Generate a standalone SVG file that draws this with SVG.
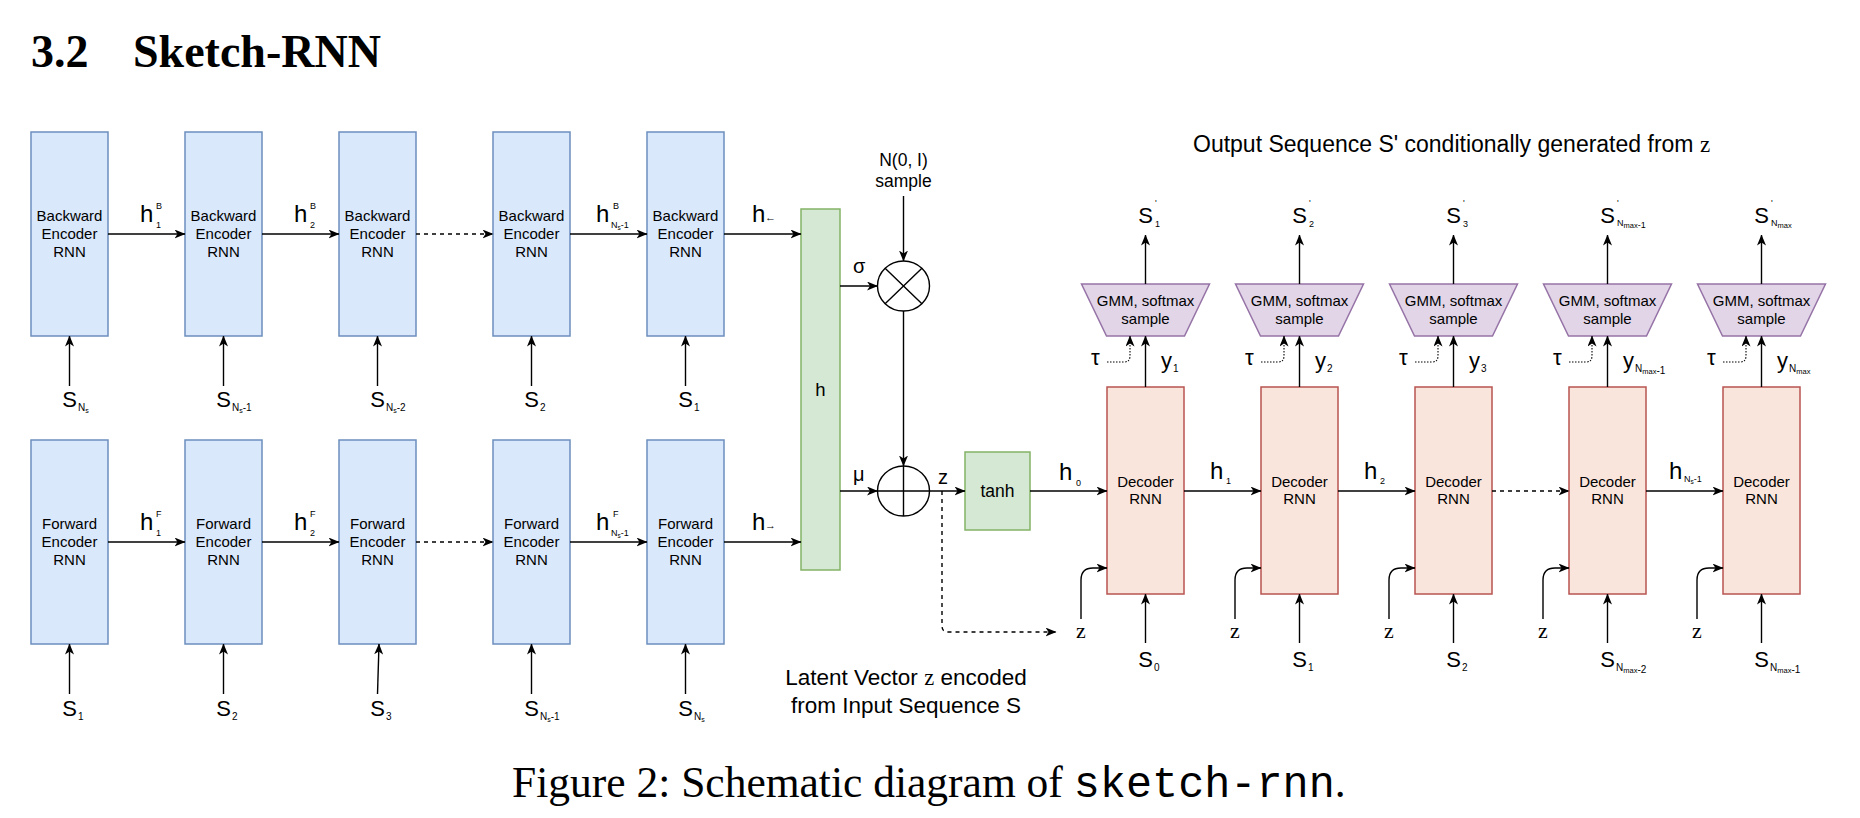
<svg xmlns="http://www.w3.org/2000/svg" width="1860" height="818" viewBox="0 0 1860 818">
<style>
text{font-family:"Liberation Sans",Arial,Helvetica,sans-serif;fill:#000}
.serif{font-family:"Liberation Serif","Times New Roman",serif}
.mono{font-family:"Liberation Mono","Courier New",monospace}
.enc{fill:#dae8fc;stroke:#6c8ebf;stroke-width:1.5}
.dec{fill:#fae5dc;stroke:#b85450;stroke-width:1.5}
.grn{fill:#d5e8d4;stroke:#82b366;stroke-width:1.5}
.gmm{fill:#e1d5e7;stroke:#9673a6;stroke-width:1.5}
.bt{font-size:15px;text-anchor:middle}
.mid{text-anchor:middle}
.sm{font-size:9px}
.xs{font-size:6.5px}
.ln{stroke:#000;stroke-width:1.4;fill:none;marker-end:url(#ah)}
.pl{stroke:#000;stroke-width:1.4;fill:none}
.dash{stroke-dasharray:4 4}
.dot{stroke-dasharray:1.5 1.5;stroke-width:1.1}
</style>
<defs>
<marker id="ah" markerUnits="userSpaceOnUse" markerWidth="11" markerHeight="9" viewBox="0 0 11 9" refX="10.5" refY="4.5" orient="auto">
<path d="M0,0 L11,4.5 L0,9 L3,4.5 Z" fill="#000"/>
</marker>
</defs>
<rect width="1860" height="818" fill="#fff"/>

<g id="heading">
<text class="serif" x="31" y="67" font-size="46" font-weight="bold">3.2</text>
<text class="serif" x="133" y="67" font-size="46" font-weight="bold">Sketch-RNN</text>
</g>

<!-- Backward encoder row -->
<g id="bwd1"><rect class="enc" x="31" y="132" width="77" height="204"/><text class="bt" x="69.5" y="221">Backward</text><text class="bt" x="69.5" y="239">Encoder</text><text class="bt" x="69.5" y="257">RNN</text></g>
<g id="bwd2"><rect class="enc" x="185" y="132" width="77" height="204"/><text class="bt" x="223.5" y="221">Backward</text><text class="bt" x="223.5" y="239">Encoder</text><text class="bt" x="223.5" y="257">RNN</text></g>
<g id="bwd3"><rect class="enc" x="339" y="132" width="77" height="204"/><text class="bt" x="377.5" y="221">Backward</text><text class="bt" x="377.5" y="239">Encoder</text><text class="bt" x="377.5" y="257">RNN</text></g>
<g id="bwd4"><rect class="enc" x="493" y="132" width="77" height="204"/><text class="bt" x="531.5" y="221">Backward</text><text class="bt" x="531.5" y="239">Encoder</text><text class="bt" x="531.5" y="257">RNN</text></g>
<g id="bwd5"><rect class="enc" x="647" y="132" width="77" height="204"/><text class="bt" x="685.5" y="221">Backward</text><text class="bt" x="685.5" y="239">Encoder</text><text class="bt" x="685.5" y="257">RNN</text></g>

<!-- Forward encoder row -->
<g id="fwd1"><rect class="enc" x="31" y="440" width="77" height="204"/><text class="bt" x="69.5" y="529">Forward</text><text class="bt" x="69.5" y="547">Encoder</text><text class="bt" x="69.5" y="565">RNN</text></g>
<g id="fwd2"><rect class="enc" x="185" y="440" width="77" height="204"/><text class="bt" x="223.5" y="529">Forward</text><text class="bt" x="223.5" y="547">Encoder</text><text class="bt" x="223.5" y="565">RNN</text></g>
<g id="fwd3"><rect class="enc" x="339" y="440" width="77" height="204"/><text class="bt" x="377.5" y="529">Forward</text><text class="bt" x="377.5" y="547">Encoder</text><text class="bt" x="377.5" y="565">RNN</text></g>
<g id="fwd4"><rect class="enc" x="493" y="440" width="77" height="204"/><text class="bt" x="531.5" y="529">Forward</text><text class="bt" x="531.5" y="547">Encoder</text><text class="bt" x="531.5" y="565">RNN</text></g>
<g id="fwd5"><rect class="enc" x="647" y="440" width="77" height="204"/><text class="bt" x="685.5" y="529">Forward</text><text class="bt" x="685.5" y="547">Encoder</text><text class="bt" x="685.5" y="565">RNN</text></g>

<!-- Latent part -->
<g id="hbox"><rect class="grn" x="801" y="209" width="39" height="361"/><text class="mid" x="820.5" y="396" font-size="18.5">h</text></g>
<g id="mult"><ellipse cx="903.5" cy="286" rx="26" ry="25" fill="#fff" stroke="#000" stroke-width="1.4"/><path class="pl" d="M885.1,268.3 L921.9,303.7 M921.9,268.3 L885.1,303.7"/></g>
<g id="add"><ellipse cx="903.5" cy="491" rx="26" ry="25" fill="#fff" stroke="#000" stroke-width="1.4"/><path class="pl" d="M877.5,491 L929.5,491 M903.5,466 L903.5,516"/></g>
<g id="noise"><text class="mid" x="903.5" y="166" font-size="17.5">N(0, I)</text><text class="mid" x="903.5" y="187" font-size="17.5">sample</text></g>
<g id="tanh"><rect class="grn" x="965" y="452" width="65" height="78"/><text class="mid" x="997.5" y="497" font-size="17.5">tanh</text></g>

<!-- Decoder row -->
<g id="dec1"><rect class="dec" x="1107" y="387" width="77" height="207"/><text class="bt" x="1145.5" y="487">Decoder</text><text class="bt" x="1145.5" y="504">RNN</text></g>
<g id="dec2"><rect class="dec" x="1261" y="387" width="77" height="207"/><text class="bt" x="1299.5" y="487">Decoder</text><text class="bt" x="1299.5" y="504">RNN</text></g>
<g id="dec3"><rect class="dec" x="1415" y="387" width="77" height="207"/><text class="bt" x="1453.5" y="487">Decoder</text><text class="bt" x="1453.5" y="504">RNN</text></g>
<g id="dec4"><rect class="dec" x="1569" y="387" width="77" height="207"/><text class="bt" x="1607.5" y="487">Decoder</text><text class="bt" x="1607.5" y="504">RNN</text></g>
<g id="dec5"><rect class="dec" x="1723" y="387" width="77" height="207"/><text class="bt" x="1761.5" y="487">Decoder</text><text class="bt" x="1761.5" y="504">RNN</text></g>

<g id="gmm1"><path class="gmm" d="M1081.5,284 L1209.5,284 L1184.5,336 L1106.5,336 Z"/><text class="bt" x="1145.5" y="306">GMM, softmax</text><text class="bt" x="1145.5" y="324">sample</text></g>
<g id="gmm2"><path class="gmm" d="M1235.5,284 L1363.5,284 L1338.5,336 L1260.5,336 Z"/><text class="bt" x="1299.5" y="306">GMM, softmax</text><text class="bt" x="1299.5" y="324">sample</text></g>
<g id="gmm3"><path class="gmm" d="M1389.5,284 L1517.5,284 L1492.5,336 L1414.5,336 Z"/><text class="bt" x="1453.5" y="306">GMM, softmax</text><text class="bt" x="1453.5" y="324">sample</text></g>
<g id="gmm4"><path class="gmm" d="M1543.5,284 L1671.5,284 L1646.5,336 L1568.5,336 Z"/><text class="bt" x="1607.5" y="306">GMM, softmax</text><text class="bt" x="1607.5" y="324">sample</text></g>
<g id="gmm5"><path class="gmm" d="M1697.5,284 L1825.5,284 L1800.5,336 L1722.5,336 Z"/><text class="bt" x="1761.5" y="306">GMM, softmax</text><text class="bt" x="1761.5" y="324">sample</text></g>

<!-- Connectors -->
<g id="connectors">
<path class="ln" d="M108,234 L185,234"/>
<path class="ln" d="M262,234 L339,234"/>
<path class="ln dash" d="M416,234 L493,234"/>
<path class="ln" d="M570,234 L647,234"/>
<path class="ln" d="M724,234 L801,234"/>
<path class="ln" d="M108,542 L185,542"/>
<path class="ln" d="M262,542 L339,542"/>
<path class="ln dash" d="M416,542 L493,542"/>
<path class="ln" d="M570,542 L647,542"/>
<path class="ln" d="M724,542 L801,542"/>
<path class="ln" d="M69.5,386 L69.5,336"/>
<path class="ln" d="M223.5,386 L223.5,336"/>
<path class="ln" d="M377.5,386 L377.5,336"/>
<path class="ln" d="M531.5,386 L531.5,336"/>
<path class="ln" d="M685.5,386 L685.5,336"/>
<path class="ln" d="M69.5,694 L69.5,644"/>
<path class="ln" d="M223.5,694 L223.5,644"/>
<path class="ln" d="M377.5,694 L379,644"/>
<path class="ln" d="M531.5,694 L531.5,644"/>
<path class="ln" d="M685.5,694 L685.5,644"/>
<path class="ln" d="M840,286 L877.5,286"/>
<path class="ln" d="M840,491 L877.5,491"/>
<path class="ln" d="M903.5,196 L903.5,261"/>
<path class="ln" d="M903.5,311 L903.5,466"/>
<path class="ln" d="M929.5,491 L965,491"/>
<path class="ln" d="M1030,491 L1107,491"/>
<path class="ln dash" d="M942,491 L942,626 Q942,632 948,632 L1056,632"/>
<path class="ln" d="M1184,491 L1261,491"/>
<path class="ln" d="M1338,491 L1415,491"/>
<path class="ln dash" d="M1492,491 L1569,491"/>
<path class="ln" d="M1646,491 L1723,491"/>
<path class="ln" d="M1145.5,643 L1145.5,594"/>
<path class="ln" d="M1299.5,643 L1299.5,594"/>
<path class="ln" d="M1453.5,643 L1453.5,594"/>
<path class="ln" d="M1607.5,643 L1607.5,594"/>
<path class="ln" d="M1761.5,643 L1761.5,594"/>
<path class="ln" d="M1081,619 L1081,580 Q1081,568 1093,568 L1107,568"/>
<path class="ln" d="M1235,619 L1235,580 Q1235,568 1247,568 L1261,568"/>
<path class="ln" d="M1389,619 L1389,580 Q1389,568 1401,568 L1415,568"/>
<path class="ln" d="M1543,619 L1543,580 Q1543,568 1555,568 L1569,568"/>
<path class="ln" d="M1697,619 L1697,580 Q1697,568 1709,568 L1723,568"/>
<path class="ln" d="M1145.5,387 L1145.5,336"/>
<path class="ln" d="M1299.5,387 L1299.5,336"/>
<path class="ln" d="M1453.5,387 L1453.5,336"/>
<path class="ln" d="M1607.5,387 L1607.5,336"/>
<path class="ln" d="M1761.5,387 L1761.5,336"/>
<path class="ln" d="M1145.5,284 L1145.5,235"/>
<path class="ln" d="M1299.5,284 L1299.5,235"/>
<path class="ln" d="M1453.5,284 L1453.5,235"/>
<path class="ln" d="M1607.5,284 L1607.5,235"/>
<path class="ln" d="M1761.5,284 L1761.5,235"/>
<path class="ln dot" d="M1107,362 L1124,362 Q1130,362 1130,356 L1130,336"/>
<path class="ln dot" d="M1261,362 L1278,362 Q1284,362 1284,356 L1284,336"/>
<path class="ln dot" d="M1415,362 L1432,362 Q1438,362 1438,356 L1438,336"/>
<path class="ln dot" d="M1569,362 L1586,362 Q1592,362 1592,356 L1592,336"/>
<path class="ln dot" d="M1723,362 L1740,362 Q1746,362 1746,356 L1746,336"/>
</g>

<!-- Connector labels -->
<g id="labels-backward" font-size="24">
<text x="140" y="222">h</text><text class="sm" x="156" y="209">B</text><text class="sm" x="156" y="228">1</text>
<text x="294" y="222">h</text><text class="sm" x="310" y="209">B</text><text class="sm" x="310" y="228">2</text>
<text x="596" y="222">h</text><text class="sm" x="613" y="209">B</text><text class="sm" x="611" y="228">N<tspan class="xs" dy="2">s</tspan><tspan dy="-2">-1</tspan></text>
<text x="752" y="222">h</text><text x="765" y="221" font-size="11">←</text>
</g>
<g id="labels-forward" font-size="24">
<text x="140" y="530">h</text><text class="sm" x="156" y="517">F</text><text class="sm" x="156" y="536">1</text>
<text x="294" y="530">h</text><text class="sm" x="310" y="517">F</text><text class="sm" x="310" y="536">2</text>
<text x="596" y="530">h</text><text class="sm" x="613" y="517">F</text><text class="sm" x="611" y="536">N<tspan class="xs" dy="2">s</tspan><tspan dy="-2">-1</tspan></text>
<text x="752" y="530">h</text><text x="765" y="529" font-size="11">→</text>
</g>
<g id="inputs-backward" font-size="22">
<text class="mid" x="69.5" y="407">S</text><text x="78" y="411" font-size="10">N<tspan font-size="7" dy="2">s</tspan></text>
<text class="mid" x="223.5" y="407">S</text><text x="232" y="411" font-size="10">N<tspan font-size="7" dy="2">s</tspan><tspan dy="-2">-1</tspan></text>
<text class="mid" x="377.5" y="407">S</text><text x="386" y="411" font-size="10">N<tspan font-size="7" dy="2">s</tspan><tspan dy="-2">-2</tspan></text>
<text class="mid" x="531.5" y="407">S</text><text x="540" y="411" font-size="10">2</text>
<text class="mid" x="685.5" y="407">S</text><text x="694" y="411" font-size="10">1</text>
</g>
<g id="inputs-forward" font-size="22">
<text class="mid" x="69.5" y="716">S</text><text x="78" y="720" font-size="10">1</text>
<text class="mid" x="223.5" y="716">S</text><text x="232" y="720" font-size="10">2</text>
<text class="mid" x="377.5" y="716">S</text><text x="386" y="720" font-size="10">3</text>
<text class="mid" x="531.5" y="716">S</text><text x="540" y="720" font-size="10">N<tspan font-size="7" dy="2">s</tspan><tspan dy="-2">-1</tspan></text>
<text class="mid" x="685.5" y="716">S</text><text x="694" y="720" font-size="10">N<tspan font-size="7" dy="2">s</tspan></text>
</g>
<g id="labels-latent">
<text x="853" y="273" font-size="20">σ</text>
<text x="853" y="481" font-size="20">μ</text>
<text x="938" y="484" font-size="20">z</text>
<text x="1059" y="480" font-size="24">h</text><text class="sm" x="1076" y="486">0</text>
<text class="serif mid" x="1081" y="638" font-size="22">z</text>
<text class="mid" x="906" y="685" font-size="22.5">Latent Vector <tspan class="serif">z</tspan> encoded</text>
<text class="mid" x="906" y="713" font-size="22.5">from Input Sequence S</text>
</g>
<g id="labels-decoder">
<text x="1210" y="479" font-size="24">h</text><text class="sm" x="1226" y="484">1</text>
<text x="1364" y="479" font-size="24">h</text><text class="sm" x="1380" y="484">2</text>
<text x="1669" y="479" font-size="24">h</text><text class="sm" x="1684" y="482">N<tspan class="xs" dy="2">s</tspan><tspan dy="-2">-1</tspan></text>
<text class="serif mid" x="1235" y="638" font-size="22">z</text>
<text class="serif mid" x="1389" y="638" font-size="22">z</text>
<text class="serif mid" x="1543" y="638" font-size="22">z</text>
<text class="serif mid" x="1697" y="638" font-size="22">z</text>
<text class="mid" x="1145.5" y="667" font-size="22">S</text><text x="1154" y="671" font-size="10">0</text>
<text class="mid" x="1299.5" y="667" font-size="22">S</text><text x="1308" y="671" font-size="10">1</text>
<text class="mid" x="1453.5" y="667" font-size="22">S</text><text x="1462" y="671" font-size="10">2</text>
<text class="mid" x="1607.5" y="667" font-size="22">S</text><text x="1616" y="671" font-size="10">N<tspan font-size="7.5" dy="2">max</tspan><tspan dy="0">-2</tspan></text>
<text class="mid" x="1761.5" y="667" font-size="22">S</text><text x="1770" y="671" font-size="10">N<tspan font-size="7.5" dy="2">max</tspan><tspan dy="0">-1</tspan></text>
</g>
<g id="labels-output">
<text class="mid" x="1145.5" y="223" font-size="22">S</text><text class="sm" x="1155" y="206">'</text><text class="sm" x="1155" y="227">1</text>
<text class="mid" x="1299.5" y="223" font-size="22">S</text><text class="sm" x="1309" y="206">'</text><text class="sm" x="1309" y="227">2</text>
<text class="mid" x="1453.5" y="223" font-size="22">S</text><text class="sm" x="1463" y="206">'</text><text class="sm" x="1463" y="227">3</text>
<text class="mid" x="1607.5" y="223" font-size="22">S</text><text class="sm" x="1617" y="206">'</text><text class="sm" x="1617" y="226">N<tspan font-size="7.5" dy="2">max</tspan><tspan dy="0">-1</tspan></text>
<text class="mid" x="1761.5" y="223" font-size="22">S</text><text class="sm" x="1771" y="206">'</text><text class="sm" x="1771" y="226">N<tspan font-size="7.5" dy="2">max</tspan></text>
<g font-size="22">
<text x="1091" y="365">τ</text><text x="1245" y="365">τ</text><text x="1399" y="365">τ</text><text x="1553" y="365">τ</text><text x="1707" y="365">τ</text>
<text x="1161" y="368">y</text><text x="1173" y="372" font-size="10">1</text>
<text x="1315" y="368">y</text><text x="1327" y="372" font-size="10">2</text>
<text x="1469" y="368">y</text><text x="1481" y="372" font-size="10">3</text>
<text x="1623" y="368">y</text><text x="1635" y="372" font-size="10">N<tspan font-size="7.5" dy="2">max</tspan><tspan dy="0">-1</tspan></text>
<text x="1777" y="368">y</text><text x="1789" y="372" font-size="10">N<tspan font-size="7.5" dy="2">max</tspan></text>
</g>
<text x="1193" y="152" font-size="23">Output Sequence S' conditionally generated from <tspan class="serif">z</tspan></text>
</g>

<g id="caption">
<text class="serif" x="512" y="797" font-size="43.5">Figure 2: Schematic diagram of <tspan class="mono">sketch-rnn</tspan>.</text>
</g>
</svg>
